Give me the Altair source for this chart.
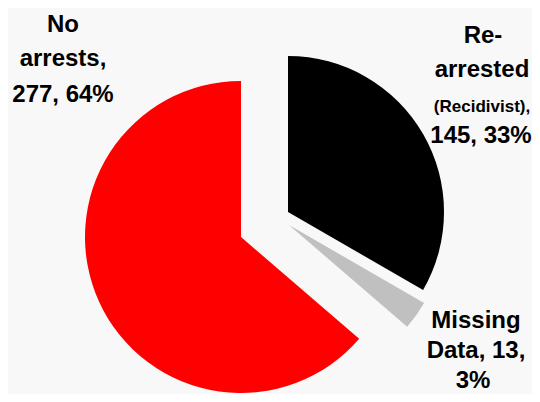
import altair as alt
import pandas as pd

# ---- data ----
categories = ["Re-arrested (Recidivist)", "Missing Data", "No arrests"]
counts = [145, 13, 277]
colors = ["#000000", "#c0c0c0", "#ff0000"]

total = sum(counts)
pcts = [round(c * 100 / total) for c in counts]

df = pd.DataFrame({"category": categories, "count": counts, "order": list(range(len(categories)))})

FONT = "Liberation Sans"
OFF = 8  # page margin

# pie centres (exploded) in page pixels, per slice
centres = {
    "Re-arrested (Recidivist)": (288, 212),
    "Missing Data": (289, 225),
    "No arrests": (241, 237),
}
R = 156

layers = []
for cat in categories:
    cx, cy = centres[cat]
    layer = (
        alt.Chart(df)
        .mark_arc(radius=R, stroke=None)
        .encode(
            theta=alt.Theta("count:Q", stack=True),
            order=alt.Order("order:Q"),
            color=alt.Color(
                "category:N",
                scale=alt.Scale(domain=categories, range=colors),
                legend=None,
            ),
            opacity=alt.condition(alt.datum.category == cat, alt.value(1), alt.value(0)),
            x=alt.value(cx - OFF),
            y=alt.value(cy - OFF),
        )
    )
    layers.append(layer)

# ---- labels ----
label_lines = [
    # (text, x, baseline y, size)
    ("No", 63, 32, 24),
    ("arrests,", 63, 66, 24),
    (f"{counts[2]}, {pcts[2]}%", 63, 102, 24),
    ("Re-", 483, 43, 24),
    ("arrested", 482, 77, 24),
    ("(Recidivist),", 482, 112, 17),
    (f"{counts[0]}, {pcts[0]}%", 481, 143, 24),
    ("Missing", 476, 328, 24),
    (f"Data, {counts[1]},", 476, 358, 24),
    (f"{pcts[1]}%", 473, 388, 24),
]

for text, x, y, size in label_lines:
    layers.append(
        alt.Chart(df)
        .transform_filter(alt.datum.order == 0)
        .mark_text(
            font=FONT,
            fontWeight="bold",
            fontSize=size,
            align="center",
            baseline="alphabetic",
            color="#000000",
        )
        .encode(x=alt.value(x - OFF), y=alt.value(y - OFF), text=alt.value(text))
    )

chart = (
    alt.layer(*layers)
    .properties(width=524, height=386, padding=0, background="#f8f8f8", autosize="none")
    .configure_view(stroke=None)
)

chart.save("out.html", embed_options={"renderer": "svg", "actions": False})
